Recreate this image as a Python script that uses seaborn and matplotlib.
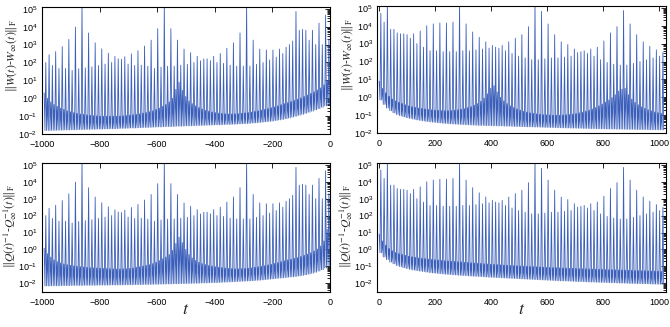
import matplotlib
matplotlib.use('Agg')
import matplotlib.pyplot as plt
import matplotlib.ticker as mticker
import numpy as np
import pandas as pd
import seaborn as sns


# spikes come on an even grid: first spike and spacing (in t)
LEFT_T0, LEFT_DT = -987.2, 11.445
RIGHT_T0, RIGHT_DT = 7.6, 11.7

# log10 height of each main spike, t < 0 half (same spikes top and bottom)
left_peak = [
    2.00, 2.43, 1.83, 2.61, 1.67, 2.89, 1.67, 3.29, 1.56, 3.98,
    1.65, 5.30, 1.70, 3.65, 1.76, 3.10, 1.83, 2.76, 1.91, 2.52,
    2.00, 2.34, 2.21, 2.18, 2.32, 1.91, 2.48, 1.83, 2.66, 1.85,
    2.92, 1.79, 3.25, 1.67, 3.89, 1.74, 5.30, 1.79, 3.89, 1.80,
    3.25, 1.85, 2.75, 1.90, 2.55, 2.00, 2.35, 2.10, 2.20, 2.20,
    2.10, 2.35, 2.00, 2.50, 1.95, 2.80, 1.85, 3.10, 1.80, 3.65,
    1.80, 5.30, 1.80, 3.25, 1.90, 2.75, 2.00, 2.70, 2.15, 2.70,
    2.30, 2.75, 2.50, 2.85, 3.00, 3.20, 4.85, 3.80, 3.85, 3.80,
    3.25, 3.80, 3.00, 4.20, 3.00, 4.65, 3.30]

# log10 height of each main spike, t > 0 half
right_peak = [
    4.70, 4.20, 5.30, 3.80, 3.80, 3.60, 3.55, 3.55, 3.50, 3.30,
    3.55, 3.00, 3.70, 2.80, 4.00, 2.60, 4.10, 2.60, 4.15, 2.55,
    4.15, 2.55, 4.20, 2.55, 5.30, 2.60, 4.10, 2.60, 3.65, 2.65,
    3.35, 2.70, 3.10, 2.75, 2.90, 2.80, 2.75, 2.90, 2.60, 3.10,
    2.45, 3.30, 2.30, 3.50, 2.20, 3.95, 2.10, 5.30, 2.10, 4.80,
    2.15, 4.10, 2.20, 3.50, 2.20, 3.10, 2.25, 2.95, 2.30, 2.70,
    2.50, 2.55, 2.60, 2.45, 2.70, 2.30, 2.80, 2.10, 3.15, 1.95,
    3.60, 1.85, 3.95, 1.80, 4.85, 1.80, 4.10, 1.90, 3.50, 2.00,
    3.10, 2.10, 2.85, 2.20, 2.65, 2.30, 2.50]

# log10 of the floor between spikes, and of the small spike in each gap
w_left_floor = [
    -1.80, -1.80, -1.79, -1.79, -1.78, -1.78, -1.77, -1.77, -1.76, -1.76,
    -1.75, -1.75, -1.74, -1.74, -1.73, -1.73, -1.72, -1.72, -1.71, -1.71,
    -1.70, -1.70, -1.69, -1.68, -1.68, -1.67, -1.66, -1.66, -1.65, -1.64,
    -1.63, -1.63, -1.62, -1.61, -1.60, -1.60, -1.59, -1.58, -1.58, -1.57,
    -1.56, -1.56, -1.55, -1.54, -1.54, -1.53, -1.52, -1.52, -1.51, -1.50,
    -1.50, -1.49, -1.48, -1.48, -1.47, -1.46, -1.46, -1.45, -1.44, -1.43,
    -1.42, -1.41, -1.40, -1.38, -1.37, -1.35, -1.33, -1.31, -1.29, -1.27,
    -1.24, -1.21, -1.18, -1.14, -1.10, -1.05, -1.00, -0.95, -0.90, -0.84,
    -0.78, -0.72, -0.65, -0.58, -0.50, -0.42, -0.35]
w_left_small = [
    0.30, 0.00, -0.20, -0.35, -0.45, -0.55, -0.62, -0.70, -0.75, -0.80,
    -0.84, -0.88, -0.90, -0.93, -0.95, -0.97, -0.98, -1.00, -1.00, -1.00,
    -1.00, -1.00, -1.00, -0.99, -0.98, -0.96, -0.94, -0.92, -0.90, -0.87,
    -0.83, -0.80, -0.75, -0.70, -0.62, -0.55, -0.45, -0.35, -0.20, 0.00,
    0.50, 0.90, 0.45, 0.10, -0.15, -0.30, -0.42, -0.52, -0.60, -0.67,
    -0.72, -0.77, -0.80, -0.83, -0.85, -0.87, -0.88, -0.88, -0.87, -0.86,
    -0.84, -0.82, -0.80, -0.77, -0.74, -0.70, -0.66, -0.62, -0.58, -0.53,
    -0.48, -0.42, -0.36, -0.30, -0.24, -0.18, -0.12, -0.05, 0.02, 0.10,
    0.18, 0.27, 0.36, 0.46, 0.58, 0.75, 1.00]
w_right_floor = [
    -0.15, -0.40, -0.60, -0.75, -0.87, -0.96, -1.03, -1.09, -1.14, -1.18,
    -1.22, -1.26, -1.29, -1.32, -1.35, -1.37, -1.39, -1.41, -1.43, -1.45,
    -1.46, -1.48, -1.49, -1.50, -1.51, -1.52, -1.53, -1.54, -1.55, -1.56,
    -1.57, -1.57, -1.58, -1.58, -1.59, -1.59, -1.60, -1.60, -1.61, -1.61,
    -1.62, -1.63, -1.63, -1.64, -1.64, -1.65, -1.65, -1.66, -1.66, -1.67,
    -1.68, -1.68, -1.69, -1.69, -1.70, -1.70, -1.71, -1.71, -1.72, -1.72,
    -1.73, -1.73, -1.74, -1.74, -1.75, -1.75, -1.76, -1.76, -1.76, -1.77,
    -1.77, -1.77, -1.78, -1.78, -1.78, -1.79, -1.79, -1.79, -1.80, -1.80,
    -1.80, -1.80, -1.81, -1.81, -1.81, -1.82, -1.82]
w_right_small = [
    0.90, 0.50, 0.25, 0.05, -0.10, -0.20, -0.28, -0.35, -0.42, -0.48,
    -0.53, -0.57, -0.60, -0.63, -0.66, -0.68, -0.70, -0.72, -0.73, -0.74,
    -0.75, -0.75, -0.74, -0.72, -0.70, -0.67, -0.63, -0.58, -0.52, -0.44,
    -0.35, -0.22, -0.05, 0.20, 0.50, 0.65, 0.30, 0.00, -0.20, -0.35,
    -0.47, -0.57, -0.65, -0.72, -0.78, -0.83, -0.87, -0.90, -0.93, -0.95,
    -0.97, -0.98, -0.99, -1.00, -1.00, -1.00, -0.99, -0.98, -0.96, -0.94,
    -0.91, -0.87, -0.83, -0.78, -0.72, -0.65, -0.57, -0.48, -0.38, -0.27,
    -0.15, -0.02, 0.15, 0.35, 0.45, 0.50, 0.15, -0.10, -0.28, -0.42,
    -0.53, -0.62, -0.70, -0.76, -0.82, -0.86, -0.90]
q_left_floor = [
    -2.16, -2.16, -2.15, -2.15, -2.15, -2.14, -2.14, -2.14, -2.13, -2.13,
    -2.13, -2.13, -2.12, -2.12, -2.12, -2.12, -2.11, -2.11, -2.11, -2.11,
    -2.10, -2.10, -2.10, -2.10, -2.09, -2.09, -2.09, -2.08, -2.08, -2.08,
    -2.07, -2.07, -2.07, -2.06, -2.06, -2.05, -2.05, -2.04, -2.04, -2.03,
    -2.03, -2.02, -2.02, -2.01, -2.01, -2.00, -2.00, -1.99, -1.98, -1.98,
    -1.97, -1.96, -1.96, -1.95, -1.94, -1.93, -1.92, -1.91, -1.90, -1.89,
    -1.88, -1.87, -1.86, -1.85, -1.83, -1.82, -1.80, -1.78, -1.76, -1.74,
    -1.72, -1.70, -1.68, -1.66, -1.64, -1.62, -1.60, -1.57, -1.54, -1.50,
    -1.46, -1.41, -1.35, -1.28, -1.20, -1.10, -0.95]
q_left_small = [
    0.07, -0.25, -0.45, -0.62, -0.72, -0.80, -0.86, -0.90, -0.94, -0.97,
    -1.00, -1.02, -1.04, -1.06, -1.08, -1.09, -1.10, -1.11, -1.12, -1.13,
    -1.14, -1.15, -1.16, -1.16, -1.15, -1.14, -1.12, -1.10, -1.06, -1.02,
    -0.98, -0.94, -0.90, -0.84, -0.76, -0.66, -0.55, -0.45, -0.30, -0.05,
    0.35, 0.72, 0.40, 0.00, -0.30, -0.50, -0.65, -0.76, -0.84, -0.90,
    -0.95, -0.99, -1.02, -1.05, -1.08, -1.10, -1.12, -1.14, -1.15, -1.15,
    -1.14, -1.13, -1.11, -1.09, -1.06, -1.03, -1.00, -0.96, -0.92, -0.88,
    -0.83, -0.78, -0.72, -0.67, -0.62, -0.58, -0.53, -0.48, -0.42, -0.35,
    -0.28, -0.20, -0.10, 0.02, 0.20, 0.50, 1.20]
q_right_floor = [
    -0.20, -0.45, -0.60, -0.75, -0.85, -0.95, -1.02, -1.08, -1.13, -1.18,
    -1.22, -1.25, -1.28, -1.31, -1.34, -1.37, -1.39, -1.41, -1.43, -1.45,
    -1.47, -1.48, -1.50, -1.51, -1.53, -1.54, -1.55, -1.57, -1.58, -1.59,
    -1.60, -1.61, -1.63, -1.64, -1.65, -1.66, -1.67, -1.68, -1.69, -1.70,
    -1.71, -1.72, -1.73, -1.74, -1.75, -1.76, -1.77, -1.78, -1.79, -1.80,
    -1.81, -1.82, -1.83, -1.84, -1.85, -1.86, -1.86, -1.87, -1.88, -1.89,
    -1.90, -1.90, -1.91, -1.92, -1.93, -1.93, -1.94, -1.95, -1.95, -1.96,
    -1.97, -1.97, -1.98, -1.99, -1.99, -2.00, -2.01, -2.01, -2.02, -2.02,
    -2.03, -2.03, -2.04, -2.05, -2.05, -2.06, -2.06]
q_right_small = [
    0.90, 0.50, 0.25, 0.05, -0.08, -0.18, -0.25, -0.30, -0.35, -0.40,
    -0.44, -0.47, -0.50, -0.53, -0.55, -0.57, -0.59, -0.61, -0.63, -0.65,
    -0.67, -0.68, -0.70, -0.71, -0.73, -0.74, -0.76, -0.77, -0.79, -0.80,
    -0.82, -0.83, -0.85, -0.86, -0.88, -0.89, -0.90, -0.91, -0.93, -0.94,
    -0.95, -0.96, -0.97, -0.98, -0.99, -1.00, -1.01, -1.02, -1.03, -1.04,
    -1.05, -1.06, -1.07, -1.08, -1.08, -1.09, -1.10, -1.11, -1.12, -1.12,
    -1.13, -1.14, -1.14, -1.15, -1.16, -1.16, -1.17, -1.18, -1.18, -1.19,
    -1.20, -1.20, -1.21, -1.22, -1.22, -1.23, -1.23, -1.24, -1.25, -1.25,
    -1.26, -1.26, -1.27, -1.28, -1.28, -1.29, -1.30]

Y_TICKS = [1e-2, 1e-1, 1e0, 1e1, 1e2, 1e3, 1e4, 1e5]
W_LABEL = r'$\Vert W(t)$-$W_{\infty}(t)\Vert_{\mathrm{F}}$'
Q_LABEL = r'$\Vert Q(t)^{-1}$-$Q_{\infty}^{-1}(t)\Vert_{\mathrm{F}}$'
LINE_COLOR = '#3b5fba'


def spike_frame(t0, dt, peak, floor, small):
    '''one small spike, a floor, the main spike and the floor again per step'''
    t, y = [], []
    for k in range(len(peak)):
        tk = t0 + k * dt
        t += [tk - 0.5 * dt, tk - 0.25 * dt, tk, tk + 0.25 * dt]
        y += [small[k], floor[k], peak[k], floor[k]]
    return pd.DataFrame({'t': t, 'y': np.power(10.0, y)})


def style_axis(ax, xlim, ylim, xticks, ylabel, label_y):
    ax.set_yscale('log')
    ax.set_xlim(*xlim)
    ax.set_ylim(*ylim)
    ax.set_xticks(xticks)
    # only the decades inside the box get a label
    ax.yaxis.set_major_locator(mticker.FixedLocator(Y_TICKS))
    ax.yaxis.set_major_formatter(mticker.LogFormatterSciNotation())
    ax.yaxis.set_minor_locator(mticker.LogLocator(base=10, subs=np.arange(2, 10),
                                                  numticks=12))
    ax.yaxis.set_minor_formatter(mticker.NullFormatter())
    ax.tick_params(which='both', direction='in', top=True, right=True,
                   labelsize=6.5, width=0.6, colors='black')
    ax.tick_params(which='major', length=3.5, pad=3)
    ax.tick_params(axis='x', which='major', pad=4.5)
    ax.tick_params(which='minor', length=2)
    ax.set_xlabel('')
    ax.set_ylabel(ylabel, fontsize=8.5, math_fontfamily='stix')
    ax.yaxis.set_label_coords(-0.077, label_y)
    for sp in ax.spines.values():
        sp.set_linewidth(0.8)
        sp.set_color('black')


sns.set_style('white')
plt.rcParams['font.family'] = ['Liberation Sans', 'DejaVu Sans']
plt.rcParams['mathtext.fontset'] = 'custom'
plt.rcParams['mathtext.rm'] = 'Liberation Sans'
plt.rcParams['mathtext.it'] = 'Liberation Sans:italic'

fig = plt.figure(figsize=(6.7, 3.27), dpi=100)
boxes = {
    'tl': [0.062, 0.590, 0.431, 0.388],
    'tr': [0.5627, 0.593, 0.431, 0.388],
    'bl': [0.062, 0.108, 0.431, 0.393],
    'br': [0.5627, 0.108, 0.431, 0.393],
}
panels = [
    ('tl', LEFT_T0, LEFT_DT, left_peak, w_left_floor, w_left_small, W_LABEL),
    ('tr', RIGHT_T0, RIGHT_DT, right_peak, w_right_floor, w_right_small, W_LABEL),
    ('bl', LEFT_T0, LEFT_DT, left_peak, q_left_floor, q_left_small, Q_LABEL),
    ('br', RIGHT_T0, RIGHT_DT, right_peak, q_right_floor, q_right_small, Q_LABEL),
]

for key, t0, dt, peak, floor, small, label in panels:
    ax = fig.add_axes(boxes[key])
    df = spike_frame(t0, dt, peak, floor, small)
    sns.lineplot(data=df, x='t', y='y', ax=ax, color=LINE_COLOR, lw=0.6,
                 estimator=None, sort=False)
    left = key.endswith('l')
    top = key.startswith('t')
    xlim = (-1002, 2) if left else (-6, 1024)
    xticks = np.arange(-1000, 1, 200) if left else np.arange(0, 1001, 200)
    ylim = (10 ** -2, 10 ** 5.09) if top else (10 ** -2.5, 10 ** 5.1)
    style_axis(ax, xlim, ylim, xticks, label, 0.62 if top else 0.51)
    if not top:
        ax.set_xlabel(r'$t$', fontsize=13, math_fontfamily='stix', labelpad=-4)

fig.savefig('out.png', dpi=100, facecolor='white')
plt.close(fig)
